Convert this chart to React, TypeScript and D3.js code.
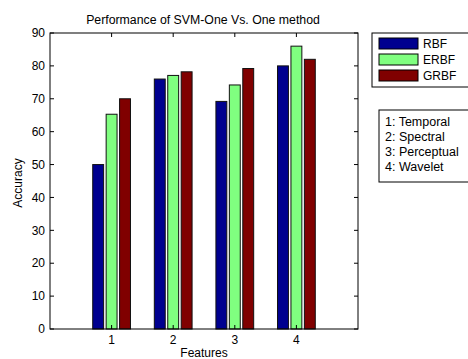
import React from "react";
import * as d3 from "d3";

const categories = [1, 2, 3, 4];
const seriesNames = ["RBF", "ERBF", "GRBF"];
const rbf = [50, 76, 69.2, 80];
const erbf = [65.3, 77.1, 74.2, 86];
const grbf = [70, 78.2, 79.2, 82];
const yTicks = [0, 10, 20, 30, 40, 50, 60, 70, 80, 90];
const featureLabels = ["1: Temporal", "2: Spectral", "3: Perceptual", "4: Wavelet"];
const colors = ["#00008f", "#80ff80", "#800000"];

const W = 468, H = 359;
const L = 50, R = 358, T = 33, B = 329;
const font = "'Liberation Sans', Arial, sans-serif";

export default function App() {
  const x = d3.scaleLinear().domain([0, 5]).range([L, R]);
  const y = d3.scaleLinear().domain([0, 90]).range([B, T]);
  const series = [rbf, erbf, grbf];
  const offset = 0.218;
  const bw = x(0.177) - x(0);
  return (
    <svg width={W} height={H} style={{ position: "absolute", left: 0, top: 0, background: "#fff" }}>
      <rect x={0} y={0} width={W} height={H} fill="#fff" />
      <g>
        {series.map((vals, si) =>
          vals.map((v, ci) => {
            const cx = x(categories[ci] + (si - 1) * offset);
            return (
              <rect key={`${si}-${ci}`} x={cx - bw / 2} y={y(v)} width={bw} height={y(0) - y(v)}
                fill={colors[si]} stroke="#111" strokeWidth={1} />
            );
          })
        )}
      </g>
      {/* axes box */}
      <rect x={L} y={T} width={R - L} height={B - T} fill="none" stroke="#000" strokeWidth={1} />
      {yTicks.map((t) => (
        <g key={t}>
          <line x1={L} x2={L + 4} y1={y(t)} y2={y(t)} stroke="#000" />
          <line x1={R} x2={R - 4} y1={y(t)} y2={y(t)} stroke="#000" />
          <text x={L - 5} y={y(t)} dy="0.35em" textAnchor="end" fontSize={12} fontFamily={font}>{t}</text>
        </g>
      ))}
      {categories.map((c) => (
        <g key={c}>
          <line x1={x(c)} x2={x(c)} y1={B} y2={B - 4} stroke="#000" />
          <line x1={x(c)} x2={x(c)} y1={T} y2={T + 4} stroke="#000" />
          <text x={x(c)} y={B + 15} textAnchor="middle" fontSize={12} fontFamily={font}>{c}</text>
        </g>
      ))}
      <text x={203} y={24} textAnchor="middle" fontSize={12.3} fontFamily={font}>Performance of SVM-One Vs. One method</text>
      <text x={204} y={357} textAnchor="middle" fontSize={12} fontFamily={font}>Features</text>
      <text transform={`translate(22,${(T + B) / 2 + 2}) rotate(-90)`} textAnchor="middle" fontSize={12} fontFamily={font}>Accuracy</text>
      {/* series legend */}
      <rect x={372} y={33} width={100} height={54} fill="#fff" stroke="#000" />
      {seriesNames.map((n, i) => (
        <g key={n}>
          <rect x={379} y={38 + i * 16} width={39} height={11} fill={colors[i]} stroke="#000" />
          <text x={423} y={43.5 + i * 16} dy="0.35em" fontSize={12} fontFamily={font}>{n}</text>
        </g>
      ))}
      {/* feature legend */}
      <rect x={379} y={110} width={92} height={72} fill="#fff" stroke="#000" />
      {featureLabels.map((f, i) => (
        <text key={f} x={385} y={122 + i * 14.8} dy="0.35em" fontSize={12.5} fontFamily={font}>{f}</text>
      ))}
    </svg>
  );
}
